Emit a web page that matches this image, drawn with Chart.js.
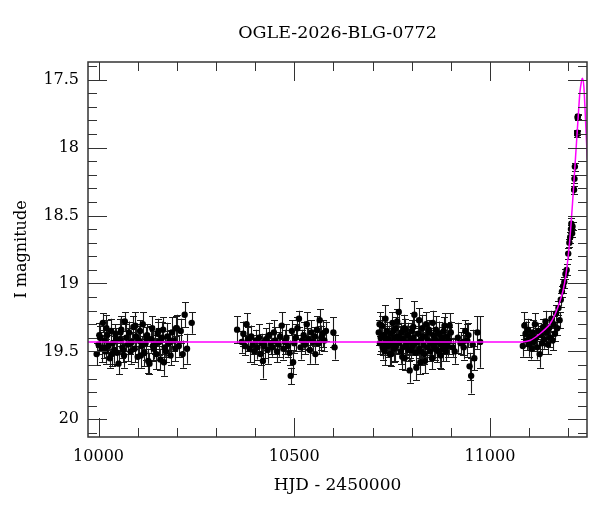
<!DOCTYPE html>
<html>
<head>
<meta charset="utf-8">
<script src="https://cdn.jsdelivr.net/npm/chart.js@4.4.1/dist/chart.umd.min.js"></script>
<style>
html,body{margin:0;padding:0;background:#fff;}
#wrap{width:600px;height:512px;}
</style>
</head>
<body>
<div id="wrap"><canvas id="c" width="600" height="512"></canvas></div>
<script>
const chartTitle = 'OGLE-2026-BLG-0772';
const xTitle = 'HJD - 2450000';
const yTitle = 'I magnitude';

// Season 1
const s1Hjd = [9995,10000,10004,10008,10011,10015,10018,10022,10025,10029,
  10032,10036,10040,10043,10047,10051,10054,10058,10061,10065,
  10067,10071,10075,10078,10082,10085,10089,10092,10096,10100,
  10103,10106,10110,10113,10117,10120,10124,10127,10130,10134,
  10137,10141,10144,10148,10151,10155,10158,10162,10165,10169,
  10172,10176,10180,10184,10188,10192,10196,10200,10205,10210,
  10215,10220,10226,10238];
const s1Mag = [19.52,19.45,19.40,19.48,19.29,19.42,19.50,19.38,19.46,19.55,
  19.35,19.44,19.49,19.37,19.51,19.59,19.41,19.34,19.47,19.53,
  19.28,19.40,19.45,19.36,19.50,19.43,19.32,19.48,19.39,19.54,
  19.42,19.35,19.46,19.30,19.51,19.44,19.38,19.57,19.59,19.41,
  19.33,19.48,19.45,19.52,19.37,19.43,19.56,19.40,19.34,19.47,
  19.50,19.39,19.44,19.53,19.36,19.42,19.48,19.33,19.46,19.35,
  19.52,19.23,19.48,19.29];
const s1Err = [0.08,0.07,0.09,0.10,0.07,0.08,0.09,0.11,0.08,0.07,
  0.09,0.08,0.10,0.07,0.09,0.08,0.11,0.10,0.08,0.09,
  0.07,0.10,0.12,0.08,0.09,0.07,0.08,0.10,0.09,0.08,
  0.11,0.08,0.07,0.09,0.10,0.12,0.08,0.09,0.08,0.10,
  0.09,0.08,0.07,0.11,0.09,0.10,0.08,0.12,0.09,0.07,
  0.08,0.10,0.09,0.07,0.11,0.08,0.09,0.10,0.08,0.09,
  0.10,0.09,0.11,0.08];
const s1bHjd = [10002,10013,10020,10034,10045,10056,10063,10080,10094,10108,10122,10139,10153,10167,10182,10198];
const s1bMag = [19.38,19.47,19.33,19.52,19.41,19.36,19.49,19.44,19.31,19.53,19.40,19.46,19.35,19.58,19.42,19.33];
const s1bErr = [0.09,0.08,0.10,0.09,0.08,0.10,0.09,0.08,0.10,0.09,0.08,0.11,0.09,0.10,0.08,0.09];

// Season 2
const s2Hjd = [10354,10366,10370,10374,10378,10382,10386,10390,10394,10398,
  10402,10406,10410,10414,10418,10420,10424,10428,10432,10436,
  10440,10444,10448,10452,10456,10460,10464,10468,10472,10476,
  10480,10484,10488,10491,10494,10497,10500,10504,10508,10512,
  10516,10520,10524,10528,10532,10536,10540,10544,10548,10552,
  10554,10558,10562,10565,10569,10573,10577,10581,10600,10603];
const s2Mag = [19.34,19.43,19.37,19.46,19.30,19.41,19.48,19.39,19.45,19.50,
  19.42,19.47,19.40,19.52,19.44,19.57,19.46,19.41,19.49,19.38,
  19.44,19.47,19.36,19.42,19.50,19.45,19.39,19.31,19.48,19.43,
  19.40,19.46,19.51,19.68,19.35,19.58,19.44,19.40,19.33,19.26,
  19.47,19.42,19.38,19.45,19.30,19.41,19.49,19.36,19.43,19.39,
  19.52,19.34,19.44,19.27,19.40,19.37,19.42,19.35,19.36,19.47];
const s2Err = [0.10,0.08,0.09,0.07,0.08,0.09,0.10,0.08,0.07,0.09,
  0.08,0.09,0.10,0.08,0.07,0.13,0.09,0.08,0.10,0.09,
  0.08,0.07,0.09,0.10,0.08,0.09,0.07,0.10,0.08,0.09,
  0.10,0.08,0.09,0.06,0.08,0.09,0.07,0.10,0.08,0.06,
  0.09,0.08,0.10,0.07,0.09,0.08,0.10,0.09,0.08,0.07,
  0.07,0.10,0.08,0.08,0.09,0.10,0.08,0.07,0.11,0.09];

// Season 3
const s3Hjd = [10716,10719,10721,10724,10726,10729,10731,10734,10736,10739,
  10741,10744,10746,10749,10751,10754,10756,10759,10761,10764,
  10767,10769,10772,10774,10777,10779,10782,10784,10787,10789,
  10792,10795,10797,10800,10802,10805,10807,10810,10812,10815,
  10817,10820,10822,10825,10827,10830,10832,10835,10837,10840,
  10842,10845,10847,10850,10852,10855,10857,10860,10862,10865,
  10867,10870,10872,10875,10877,10880,10882,10885,10887,10890,
  10892,10895,10897,10900,10905,10910,10918,10925,10931,10933,
  10937,10942,10945,10948,10952,10956,10960,10968,10975];
const s3Mag = [19.36,19.44,19.40,19.31,19.47,19.38,19.50,19.42,19.35,19.46,
  19.41,19.52,19.37,19.44,19.29,19.48,19.40,19.33,19.45,19.39,
  19.21,19.43,19.50,19.36,19.47,19.41,19.55,19.34,19.44,19.38,
  19.49,19.64,19.42,19.35,19.46,19.40,19.23,19.51,19.62,19.43,
  19.37,19.48,19.58,19.41,19.33,19.45,19.52,19.39,19.30,19.47,
  19.42,19.36,19.50,19.44,19.55,19.38,19.46,19.41,19.34,19.49,
  19.43,19.37,19.52,19.45,19.40,19.48,19.35,19.44,19.50,19.39,
  19.46,19.42,19.31,19.36,19.47,19.50,19.40,19.44,19.43,19.47,
  19.35,19.42,19.38,19.61,19.68,19.45,19.55,19.36,19.43];
const s3Err = [0.09,0.08,0.10,0.07,0.09,0.08,0.10,0.09,0.07,0.08,
  0.10,0.08,0.09,0.07,0.08,0.10,0.09,0.08,0.07,0.09,
  0.10,0.08,0.09,0.07,0.08,0.10,0.09,0.08,0.09,0.07,
  0.08,0.09,0.10,0.08,0.07,0.09,0.10,0.08,0.09,0.08,
  0.10,0.07,0.09,0.08,0.10,0.09,0.07,0.08,0.09,0.10,
  0.08,0.09,0.07,0.10,0.08,0.09,0.08,0.07,0.10,0.09,
  0.08,0.09,0.10,0.07,0.08,0.09,0.10,0.08,0.07,0.09,
  0.08,0.10,0.09,0.08,0.07,0.09,0.11,0.08,0.10,0.09,
  0.08,0.12,0.09,0.10,0.13,0.11,0.09,0.12,0.19];
const s3bHjd = [10718,10728,10733,10738,10748,10753,10758,10763,10771,10776,10781,10786,10791,10799,
  10804,10809,10819,10824,10829,10834,10844,10849,10854,10859,10869,10874,10879,10884];
const s3bMag = [19.30,19.45,19.26,19.41,19.52,19.35,19.47,19.28,19.40,19.54,19.33,19.46,19.38,19.49,
  19.32,19.44,19.27,19.50,19.39,19.57,19.34,19.43,19.29,19.48,19.37,19.53,19.42,19.31];
const s3bErr = [0.09,0.08,0.10,0.08,0.09,0.07,0.10,0.09,0.08,0.09,0.10,0.08,0.09,0.07,
  0.10,0.08,0.09,0.10,0.08,0.09,0.07,0.10,0.09,0.08,0.09,0.10,0.08,0.09];

// Season 4 (event)
const s4Hjd = [11084,11088,11091,11094,11097,11100,11103,11106,11109,11112,
  11115,11118,11121,11124,11127,11130,11133,11136,11139,11142,
  11145,11148,11151,11154,11157,11160,11163,11166,11169,11172,
  11175,11178,11181,11184,11187,11190,11193,11196,11200,11203,
  11205,11207,11208,11210,11211,11215,11216,11217,11223,11223.5,
  11224,11224.5];
const s4Mag = [19.46,19.31,19.37,19.42,19.34,19.45,19.39,19.48,19.36,19.43,
  19.30,19.40,19.47,19.35,19.52,19.38,19.44,19.32,19.41,19.28,
  19.36,19.45,19.33,19.40,19.26,19.42,19.30,19.37,19.22,19.33,
  19.18,19.27,19.12,19.06,19.02,18.99,18.93,18.90,18.78,18.70,
  18.66,18.60,18.56,18.63,18.58,18.31,18.23,18.14,17.90,17.89,
  17.78,17.77];
const s4Err = [0.08,0.10,0.09,0.07,0.08,0.09,0.07,0.08,0.09,0.07,
  0.08,0.07,0.09,0.06,0.10,0.07,0.08,0.06,0.07,0.08,
  0.06,0.07,0.06,0.07,0.06,0.07,0.06,0.05,0.06,0.05,
  0.05,0.06,0.05,0.04,0.05,0.04,0.04,0.04,0.04,0.03,
  0.04,0.03,0.04,0.03,0.03,0.03,0.03,0.03,0.02,0.02,
  0.02,0.02];

// Model curve
const modelHjd = [9973,10500,11000,11050,11080,11102,11119,11136,11153,11166,11179,11187,11194,11200,11206,11211,11216,11221,11226,11230,11234,11236,11240,11243,11247,11249];
const modelMag = [19.43,19.43,19.43,19.43,19.43,19.42,19.39,19.35,19.30,19.23,19.13,19.05,18.94,18.80,18.61,18.41,18.19,17.97,17.75,17.59,17.51,17.49,17.55,17.72,17.97,18.09];

const xMin = 9973, xMax = 11248;
const yMin = 17.37, yMax = 20.13;

const seasons = [[s1Hjd,s1Mag,s1Err],[s1bHjd,s1bMag,s1bErr],[s2Hjd,s2Mag,s2Err],
  [s3Hjd,s3Mag,s3Err],[s3bHjd,s3bMag,s3bErr],[s4Hjd,s4Mag,s4Err]];
const points = [];
seasons.forEach(([h,m,e]) => { for (let i = 0; i < h.length; i++) points.push({x:h[i], y:m[i], e:e[i]}); });
const model = modelHjd.map((h,i) => ({x:h, y:modelMag[i]}));

const FONT = "'DejaVu Serif', serif";
const isMult = (v, s) => Math.abs(v / s - Math.round(v / s)) < 1e-6;

const errorBars = {
  id: 'errorBars',
  beforeDatasetsDraw(chart) {
    const {ctx, chartArea: a, scales: {x, y}} = chart;
    const ds = chart.data.datasets[1];
    ctx.save();
    ctx.beginPath(); ctx.rect(a.left, a.top, a.width, a.height); ctx.clip();
    ctx.strokeStyle = '#1a1a1a'; ctx.lineWidth = 1.1;
    ctx.beginPath();
    for (const p of ds.data) {
      const px = Math.round(x.getPixelForValue(p.x)) + 0.5;
      const y1 = y.getPixelForValue(p.y - p.e), y2 = y.getPixelForValue(p.y + p.e);
      ctx.moveTo(px, y1); ctx.lineTo(px, y2);
      ctx.moveTo(px - 3.5, Math.round(y1) + 0.5); ctx.lineTo(px + 3.5, Math.round(y1) + 0.5);
      ctx.moveTo(px - 3.5, Math.round(y2) + 0.5); ctx.lineTo(px + 3.5, Math.round(y2) + 0.5);
    }
    ctx.stroke();
    ctx.restore();
  }
};

const frame = {
  id: 'frame',
  afterDraw(chart) {
    const {ctx, chartArea: a, scales: {x, y}} = chart;
    ctx.save();
    ctx.strokeStyle = '#333'; ctx.lineWidth = 1;
    ctx.beginPath();
    for (const t of x.ticks) {
      if (t.value < xMin || t.value > xMax) continue;
      const px = Math.round(x.getPixelForValue(t.value)) + 0.5;
      const len = isMult(t.value, 500) ? 19 : 9;
      ctx.moveTo(px, a.bottom); ctx.lineTo(px, a.bottom - len);
      ctx.moveTo(px, a.top); ctx.lineTo(px, a.top + len);
    }
    for (const t of y.ticks) {
      if (t.value < yMin || t.value > yMax) continue;
      const py = Math.round(y.getPixelForValue(t.value)) + 0.5;
      const len = isMult(t.value, 0.5) ? 19 : 9;
      ctx.moveTo(a.left, py); ctx.lineTo(a.left + len, py);
      ctx.moveTo(a.right, py); ctx.lineTo(a.right - len, py);
    }
    ctx.stroke();
    ctx.lineWidth = 1.5;
    ctx.strokeRect(a.left, a.top, a.width, a.height);
    ctx.fillStyle = '#000';
    ctx.font = "17.5px " + FONT;
    ctx.textAlign = 'center'; ctx.textBaseline = 'middle';
    ctx.fillText(chartTitle, (a.left + a.right) / 2, 33);
    ctx.restore();
  }
};

new Chart(document.getElementById('c'), {
  data: {
    datasets: [
      { type: 'line', data: model, borderColor: '#ff00ff', borderWidth: 1.5, pointRadius: 0, fill: false,
        cubicInterpolationMode: 'monotone', order: 0, clip: 0 },
      { type: 'scatter', data: points, backgroundColor: '#000', borderWidth: 0, pointRadius: 3.2,
        pointHoverRadius: 3.2, order: 1 }
    ]
  },
  options: {
    responsive: false,
    animation: false,
    devicePixelRatio: 1,
    layout: { padding: { top: 62, right: 13, left: 0, bottom: 0 } },
    plugins: { legend: { display: false }, tooltip: { enabled: false }, title: { display: false } },
    scales: {
      x: {
        type: 'linear', min: xMin, max: xMax,
        afterFit: s => { s.height = 75; },
        grid: { display: false, drawTicks: false },
        border: { display: false },
        ticks: { stepSize: 100, includeBounds: false, autoSkip: false, maxRotation: 0, padding: 10,
          color: '#000', font: { family: FONT, size: 16 },
          callback: v => isMult(v, 500) ? String(Math.round(v)) : '' },
        title: { display: true, text: xTitle, color: '#000', font: { family: FONT, size: 17 },
          padding: { top: 0, bottom: 16 } }
      },
      y: {
        type: 'linear', min: yMin, max: yMax, reverse: true,
        afterFit: s => { s.width = 88; },
        grid: { display: false, drawTicks: false },
        border: { display: false },
        ticks: { stepSize: 0.1, includeBounds: false, autoSkip: false, padding: 9,
          color: '#000', font: { family: FONT, size: 16 },
          callback: v => isMult(v, 0.5) ? String(Math.round(v * 10) / 10) : '' },
        title: { display: true, text: yTitle, color: '#000', font: { family: FONT, size: 16 },
          padding: { top: 12, bottom: 0 } }
      }
    }
  },
  plugins: [errorBars, frame]
});
</script>
</body>
</html>
